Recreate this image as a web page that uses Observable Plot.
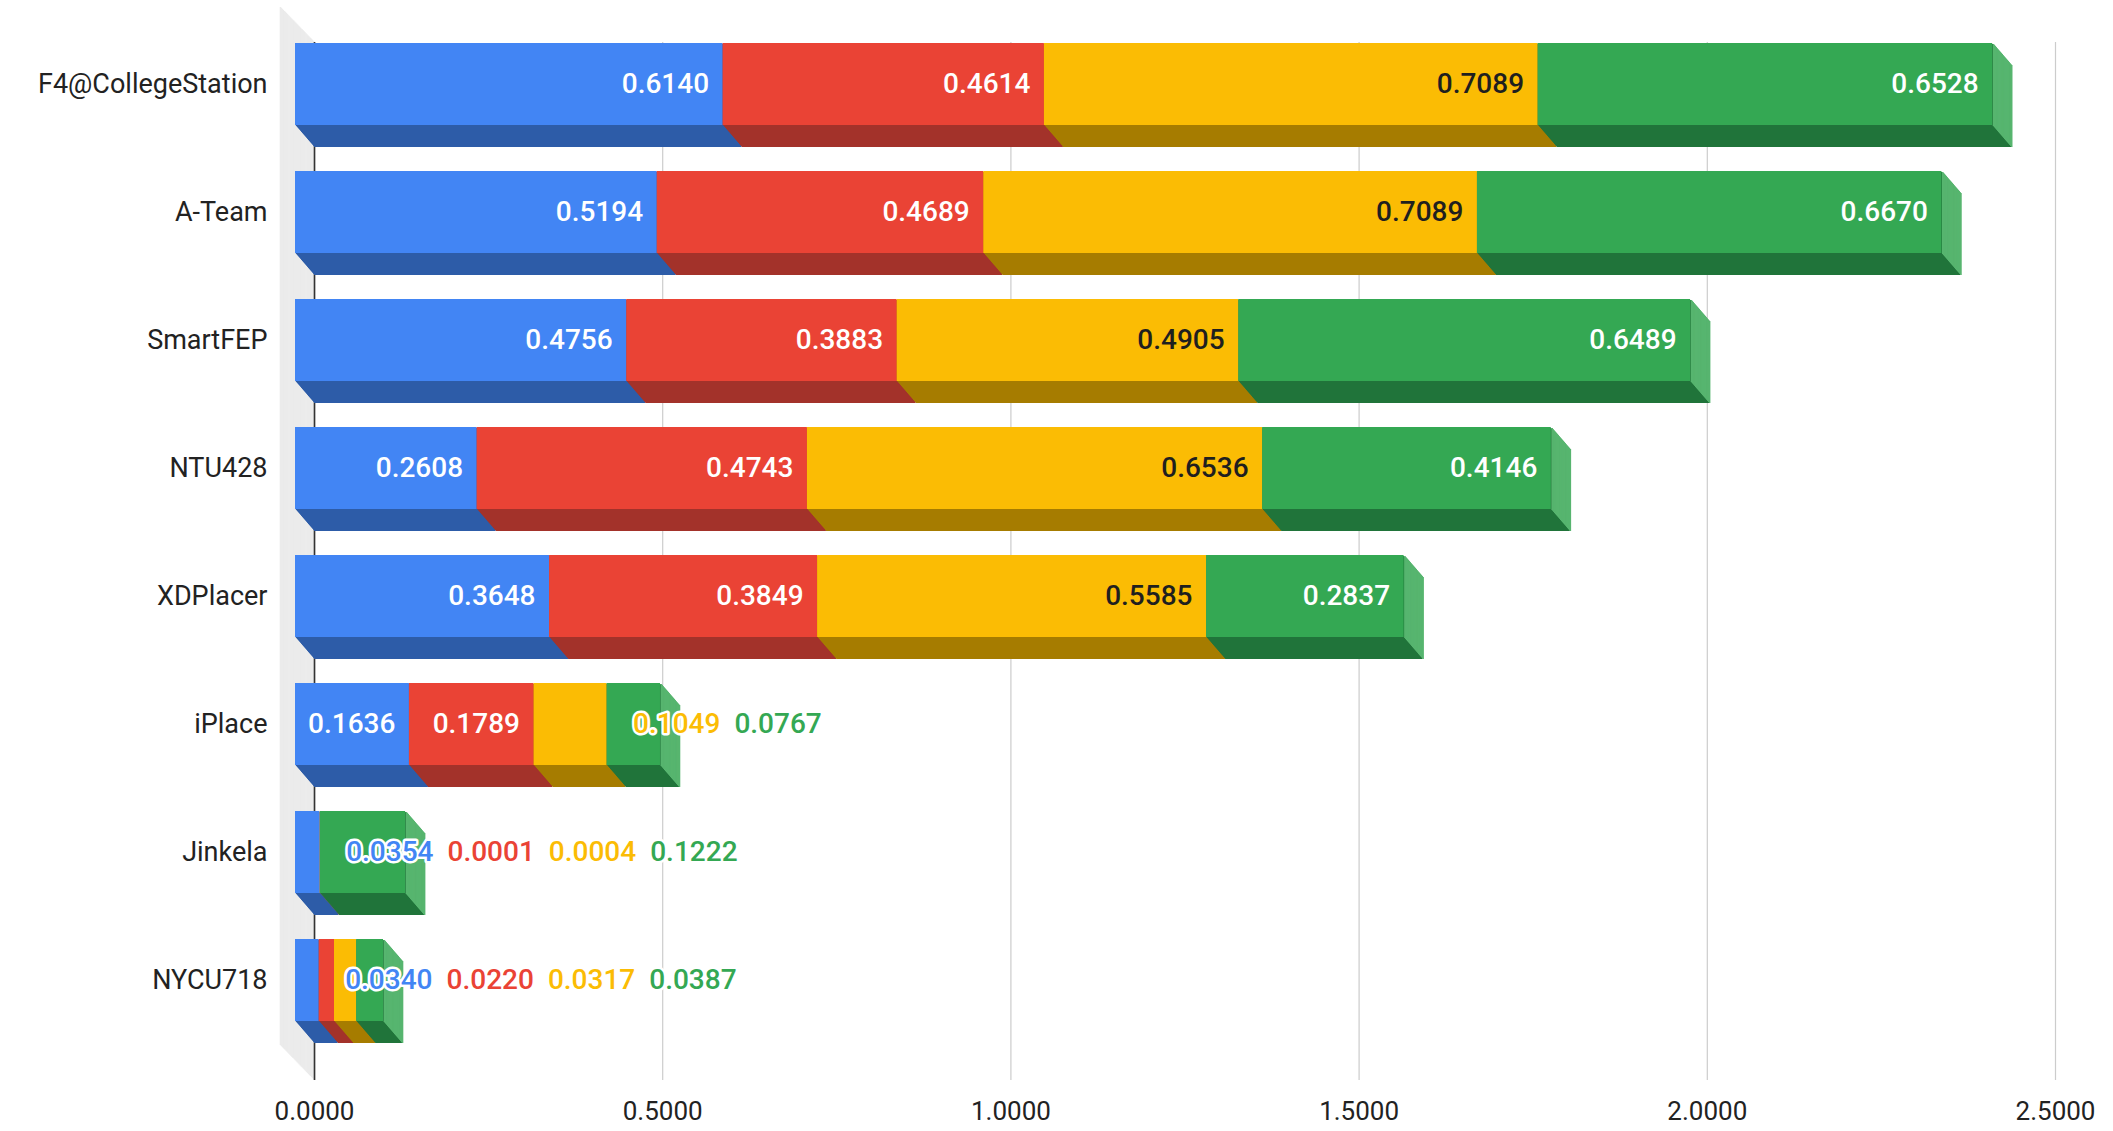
<!DOCTYPE html>
<html>
<head>
<meta charset="utf-8">
<script src="https://cdn.jsdelivr.net/npm/d3@7"></script>
<script src="https://cdn.jsdelivr.net/npm/@observablehq/plot@0.6"></script>
<style>
  html, body { margin: 0; padding: 0; background: #fff; }
  svg { display: block; }
</style>
</head>
<body>
<div id="chart"></div>
<script>
// ---- data ----
const categories = ["F4@CollegeStation", "A-Team", "SmartFEP", "NTU428", "XDPlacer", "iPlace", "Jinkela", "NYCU718"];
const seriesNames = ["Series 1", "Series 2", "Series 3", "Series 4"];
const series1 = [0.6140, 0.5194, 0.4756, 0.2608, 0.3648, 0.1636, 0.0354, 0.0340];
const series2 = [0.4614, 0.4689, 0.3883, 0.4743, 0.3849, 0.1789, 0.0001, 0.0220];
const series3 = [0.7089, 0.7089, 0.4905, 0.6536, 0.5585, 0.1049, 0.0004, 0.0317];
const series4 = [0.6528, 0.6670, 0.6489, 0.4146, 0.2837, 0.0767, 0.1222, 0.0387];
const xTicks = [0, 0.5, 1, 1.5, 2, 2.5];

// ---- styles ----
const frontColors = ["#4285f4", "#ea4335", "#fbbc04", "#34a853"];
const shadeColors = ["#2d5ca8", "#a3322a", "#a67c00", "#20743a"];
const endColors   = ["#6a9ef5", "#ef6d61", "#fccd4f", "#57b56f"];
const labelInk    = ["#ffffff", "#ffffff", "#1f1f1f", "#ffffff"];
const FONT = "Roboto, 'Liberation Sans', Arial, sans-serif";

const W = 2113, H = 1131;
const ML = 314, MR = 58, MT = 18, MB = 41;
const DX = 19, DY = 22;          // bar depth (px)
const WX = 34, WY = 35;          // side wall depth (px)
const N = 22;                    // extrusion layers

const values = [series1, series2, series3, series4];
const rows = [];
categories.forEach((c, i) => {
  let acc = 0;
  values.forEach((vals, s) => {
    const v = vals[i];
    rows.push({cat: c, s, series: seriesNames[s], value: v, x1: acc, x2: acc + v});
    acc += v;
  });
});
const totals = categories.map((c, i) => ({cat: c, s: 3, total: d3.sum(values, v => v[i])}));

// label layout: inside if it fits, otherwise in a row to the right
const xs = Plot.scale({x: {domain: [0, 2.5], range: [ML, W - MR]}});
const ctx = document.createElement("canvas").getContext("2d");
ctx.font = `500 28px ${FONT}`;
const inside = [], outside = [];
categories.forEach(c => {
  let prevEnd = -Infinity;
  rows.filter(r => r.cat === c).forEach(r => {
    const label = r.value.toFixed(4);
    const w = ctx.measureText(label).width;
    const segPx = xs.apply(r.x2) - xs.apply(r.x1);
    if (segPx >= w + 24) inside.push({...r, label});
    else {
      const start = Math.max(xs.apply(r.x2) + 7, prevEnd + 14);
      prevEnd = start + w;
      outside.push({...r, label, xl: xs.invert(start)});
    }
  });
});

const marks = [];
// left side wall
const NW = 36;
for (let k = 0; k <= NW; k++) {
  marks.push(Plot.ruleX([0], {stroke: "#ebebeb", strokeWidth: 1.6, insetTop: 24, insetBottom: 10,
    dx: -WX * k / NW, dy: -WY * k / NW}));
}
// grid + zero line
marks.push(Plot.gridX(xTicks, {stroke: "#cccccc", strokeOpacity: 1, strokeWidth: 1.2, insetTop: 24, insetBottom: 10}));
marks.push(Plot.ruleX([0], {stroke: "#333", strokeWidth: 1.6, insetTop: 24, insetBottom: 10}));
// extrusion (bottom faces)
for (let k = 0; k < N; k++) {
  marks.push(Plot.barX(rows, {x1: "x1", x2: "x2", y: "cat", fill: r => shadeColors[r.s],
    dx: -DX * k / N, dy: -DY * k / N}));
}
// end faces
for (let k = 0; k < N; k++) {
  marks.push(Plot.tickX(totals, {x: "total", y: "cat", stroke: r => endColors[r.s], strokeWidth: 1.6,
    dx: -DX * k / N, dy: -DY * k / N}));
}
// front faces
marks.push(Plot.barX(rows, {x1: "x1", x2: "x2", y: "cat", fill: r => frontColors[r.s], dx: -DX, dy: -DY}));
// value labels
marks.push(Plot.text(inside, {x: "x2", y: "cat", text: "label", textAnchor: "end", dx: -DX - 14, dy: -DY,
  fill: r => labelInk[r.s], fontSize: 28, fontWeight: 500, fontFamily: FONT}));
marks.push(Plot.text(outside, {x: "xl", y: "cat", text: "label", textAnchor: "start", dy: -DY,
  fill: r => frontColors[r.s], stroke: "white", strokeWidth: 5, fontSize: 28, fontWeight: 500, fontFamily: FONT}));
// axes
marks.push(Plot.axisX(xTicks, {tickFormat: d => d.toFixed(4), tickSize: 0, tickPadding: 11, fontSize: 26,
  fill: "#222", fontFamily: FONT, label: null}));
marks.push(Plot.axisY({tickSize: 0, tickPadding: 47, dy: -DY, fontSize: 27, fill: "#222", fontFamily: FONT, label: null}));

const chart = Plot.plot({
  width: W, height: H,
  marginLeft: ML, marginRight: MR, marginTop: MT, marginBottom: MB,
  x: {domain: [0, 2.5]},
  y: {domain: categories, paddingInner: 0.36, paddingOuter: 0.36},
  color: {type: "identity"},
  style: {fontFamily: FONT, background: "white"},
  marks
});
document.getElementById("chart").appendChild(chart);
</script>
</body>
</html>
